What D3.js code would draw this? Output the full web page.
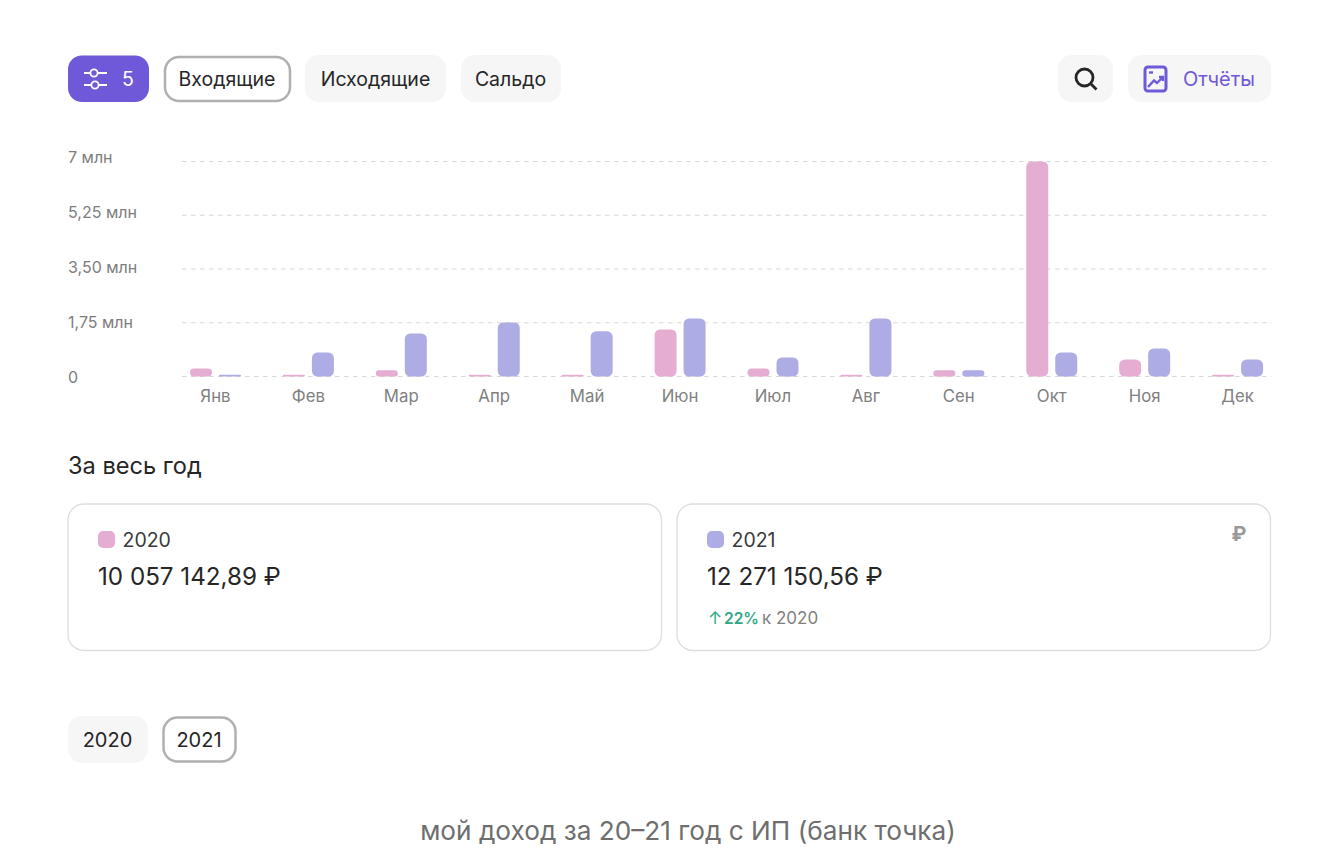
<!DOCTYPE html>
<html lang="ru"><head><meta charset="utf-8">
<style>html,body{margin:0;padding:0;background:#fff}svg{display:block}text{font-family:Inter,"Noto Sans",sans-serif}</style>
<script src="https://cdn.jsdelivr.net/npm/d3@7/dist/d3.min.js"></script></head><body>
<script>
const months = ["Янв","Фев","Мар","Апр","Май","Июн","Июл","Авг","Сен","Окт","Ноя","Дек"];
const series = ["2020","2021"];
const values2020 = [0.26,0.06,0.20,0.06,0.06,1.53,0.26,0.06,0.20,7.00,0.55,0.06];
const values2021 = [0.06,0.78,1.40,1.76,1.47,1.89,0.62,1.89,0.20,0.78,0.91,0.55];
const yTicks = [0,1.75,3.5,5.25,7];
const yTickLabels = ["0","1,75 млн","3,50 млн","5,25 млн","7 млн"];
const totals = ["10 057 142,89 ₽","12 271 150,56 ₽"];
const filters = ["Входящие","Исходящие","Сальдо"];
const years = ["2020","2021"];
const colors = {"2020":"#e5add2","2021":"#aeace4"};
const purple = "#7059d8";

const W=1326,H=862;
const svg=d3.select("body").append("svg").attr("width",W).attr("height",H);
const txt=(s,x,y,size,fill,anchor="start",weight=400)=>svg.append("text").attr("x",x).attr("y",y).attr("font-size",size).attr("fill",fill).attr("text-anchor",anchor).attr("font-weight",weight).text(s);
const box=(x,y,w,h,r,fill,stroke,sw=1)=>svg.append("rect").attr("x",x).attr("y",y).attr("width",w).attr("height",h).attr("rx",r).attr("fill",fill).attr("stroke",stroke||"none").attr("stroke-width",sw);

// toolbar
box(68,55.5,81,46.5,14,purple);
const ic=svg.append("g").attr("stroke","#fff").attr("stroke-width",1.8).attr("fill","none");
ic.append("path").attr("d","M84 73H90M98 73H107M84 85H91M99 85H107");
ic.append("circle").attr("cx",94).attr("cy",73).attr("r",3.6);
ic.append("circle").attr("cx",95).attr("cy",85).attr("r",3.6);
txt("5",128,85.5,19.5,"#fff","middle");
box(165,57,125,44,14,"#fff","#b0b0b0",2.5);
txt(filters[0],227,85.5,19.5,"#262626","middle");
box(305,55,141,47,14,"#f6f6f6");
txt(filters[1],375.5,85.5,19.5,"#262626","middle");
box(461,55,100,47,14,"#f6f6f6");
txt(filters[2],510.5,85.5,19.5,"#262626","middle");
box(1058,55,55,47,14,"#f6f6f6");
const mg=svg.append("g").attr("stroke","#262626").attr("stroke-width",2.8).attr("fill","none");
mg.append("circle").attr("cx",1084.5).attr("cy",77.5).attr("r",8.5);
mg.append("path").attr("d","M1091 84L1096.5 89.5");
box(1128,55,143,47,14,"#f6f6f6");
const rg=svg.append("g").attr("stroke",purple).attr("fill","none").attr("stroke-width",3);
rg.append("rect").attr("x",1145).attr("y",67).attr("width",21).attr("height",24).attr("rx",3);
rg.append("path").attr("d","M1148 87L1154 80.5L1157 83L1163 77M1159 77H1163V81").attr("stroke-width",2.4);
rg.append("path").attr("d","M1149 72.5H1153").attr("stroke-width",2.4);
txt("Отчёты",1219,85.5,20,purple,"middle");

// chart
const y=d3.scaleLinear().domain([0,7]).range([376.5,161.5]);
const yLabel=d3.scaleLinear().domain([0,7]).range([377,157]);
const x=d3.scaleBand().domain(months).range([169,1284]);
const sub=d3.scaleBand().domain(series).range([21,72]).paddingInner(7/29).paddingOuter(0);
const grid=svg.append("g");
grid.selectAll("line").data(yTicks).join("line")
 .attr("x1",182).attr("x2",1271.5).attr("y1",d=>y(d)).attr("y2",d=>y(d))
 .attr("stroke","#d8d8d8").attr("stroke-width",1.2).attr("stroke-dasharray","4.5 4.5");
svg.append("g").selectAll("text").data(yTicks).join("text")
 .attr("x",68).attr("y",d=>yLabel(d)+6).attr("font-size",16).attr("fill","#7d7d7d")
 .text((d,i)=>yTickLabels[i]);
series.forEach((s,k)=>{
  const vals=k?values2021:values2020;
  svg.append("g").selectAll("path").data(months).join("path")
   .attr("fill",colors[s])
   .attr("d",(m,i)=>{
     const x0=x(m)+sub(s),w=sub.bandwidth(),top=y(vals[i]),h=y(0)-top,r=Math.min(5.5,h/2,w/2);
     return `M${x0+r},${top}H${x0+w-r}a${r},${r} 0 0 1 ${r},${r}V${y(0)-r}a${r},${r} 0 0 1 ${-r},${r}H${x0+r}a${r},${r} 0 0 1 ${-r},${-r}V${top+r}a${r},${r} 0 0 1 ${r},${-r}Z`;
   });
});
svg.append("g").selectAll("text").data(months).join("text")
 .attr("x",d=>x(d)+x.bandwidth()/2).attr("y",402).attr("text-anchor","middle")
 .attr("font-size",16.8).attr("fill","#808080").text(d=>d);

// summary
txt("За весь год",68,474,23.6,"#262626");
const cards=[[68,series[0],totals[0]],[677,series[1],totals[1]]];
cards.forEach(([cx,s,t])=>{
  box(cx,504,593.5,146.5,16,"#fff","#dedede",1.3);
  box(cx+30,531,17,17,5,colors[s]);
  txt(s,cx+54.5,546.5,19.5,"#3a3a3a");
  txt(t,cx+30,584.5,24.2,"#262626");
});
txt("₽",1239,541,20,"#999","middle",700);
txt("↑",715,624,17,"#2fa886","middle");
txt("22%",724,624,15.5,"#2fa886","start",600);
txt("к 2020",762,624,17,"#808080");

// year buttons
box(68,716,80,47,14,"#f6f6f6");
txt(years[0],107.5,747,20,"#262626","middle");
box(163.5,717.5,72,44,14,"#fff","#b0b0b0",2.5);
txt(years[1],199,747,20,"#262626","middle");

txt("мой доход за 20–21 год с ИП (банк точка)",688,840,26.2,"#6e6e6e","middle");
</script></body></html>
